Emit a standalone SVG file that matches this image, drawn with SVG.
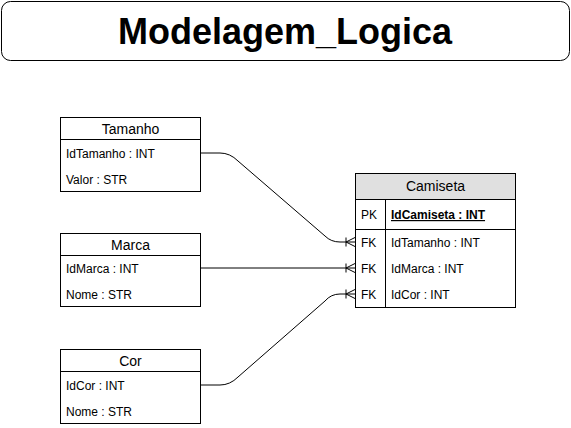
<svg xmlns="http://www.w3.org/2000/svg" width="571" height="428" viewBox="0 0 571 428">
<style>
text{font-family:"Liberation Sans",Arial,sans-serif;fill:#000}
.box{fill:#fff;stroke:#000;stroke-width:1}
.hd{font-size:14px;text-anchor:middle}
.row{font-size:12px}
.edge{fill:none;stroke:#000;stroke-width:1}
</style>
<defs>
<marker id="many" markerUnits="userSpaceOnUse" markerWidth="14" markerHeight="14" refX="12" refY="7" orient="auto" overflow="visible">
<path d="M3 2.5V11.5M3 7L12 2.5M3 7L12 11.5" fill="none" stroke="#000" stroke-width="1"/>
</marker>
</defs>
<g id="title">
<rect x="1.5" y="1.5" width="568" height="59" rx="9" class="box"/>
<text x="285" y="44" font-size="36" font-weight="bold" text-anchor="middle">Modelagem_Logica</text>
</g>
<g id="connectors">
<path class="edge" d="M200.5 153H220Q230 153 238 161L325 236Q331 242 340 242H355" marker-end="url(#many)"/>
<path class="edge" d="M200.5 268H355" marker-end="url(#many)"/>
<path class="edge" d="M200.5 385H220Q230 385 238 377L325 301Q331 294 340 294H355" marker-end="url(#many)"/>
</g>
<g id="tamanho">
<rect x="60.5" y="117.5" width="140" height="74" class="box"/>
<line x1="60.5" y1="139.5" x2="200.5" y2="139.5" stroke="#000"/>
<text x="130.5" y="134" class="hd">Tamanho</text>
<text x="66" y="158" class="row">IdTamanho : INT</text>
<text x="66" y="184" class="row">Valor : STR</text>
</g>
<g id="marca">
<rect x="60.5" y="233.5" width="140" height="73" class="box"/>
<line x1="60.5" y1="255.5" x2="200.5" y2="255.5" stroke="#000"/>
<text x="130.5" y="250" class="hd">Marca</text>
<text x="66" y="273" class="row">IdMarca : INT</text>
<text x="66" y="299" class="row">Nome : STR</text>
</g>
<g id="cor">
<rect x="60.5" y="349.5" width="140" height="74" class="box"/>
<line x1="60.5" y1="371.5" x2="200.5" y2="371.5" stroke="#000"/>
<text x="130.5" y="366" class="hd">Cor</text>
<text x="66" y="390" class="row">IdCor : INT</text>
<text x="66" y="416" class="row">Nome : STR</text>
</g>
<g id="camiseta">
<rect x="355.5" y="173.5" width="160" height="134" class="box"/>
<rect x="355.5" y="173.5" width="160" height="26" fill="#e0e0e0" stroke="#000"/>
<line x1="355.5" y1="229.5" x2="515.5" y2="229.5" stroke="#000"/>
<line x1="385.5" y1="199.5" x2="385.5" y2="307.5" stroke="#000"/>
<text x="435.5" y="191" class="hd">Camiseta</text>
<text x="361" y="219" class="row">PK</text>
<text x="391" y="219" class="row" font-weight="bold" text-decoration="underline">IdCamiseta : INT</text>
<text x="361" y="247" class="row">FK</text>
<text x="391" y="247" class="row">IdTamanho : INT</text>
<text x="361" y="273" class="row">FK</text>
<text x="391" y="273" class="row">IdMarca : INT</text>
<text x="361" y="299" class="row">FK</text>
<text x="391" y="299" class="row">IdCor : INT</text>
</g>
</svg>
